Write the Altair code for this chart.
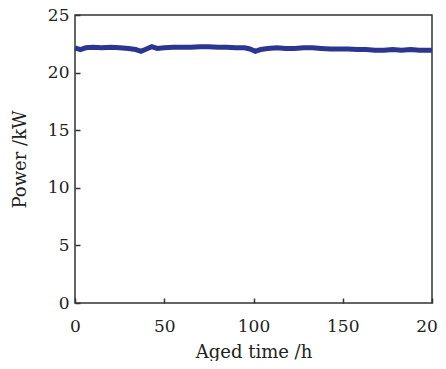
import altair as alt
import pandas as pd

hours = [0, 3, 6, 10, 15, 20, 25, 30, 34, 37, 40, 43, 46, 50, 55, 60, 65, 70, 75, 80,
         85, 90, 95, 98, 101, 104, 108, 113, 118, 123, 128, 133, 138, 143, 148, 153,
         158, 163, 168, 173, 178, 183, 188, 193, 198, 200]
power = [22.15, 22.0, 22.15, 22.2, 22.15, 22.2, 22.15, 22.1, 22.0, 21.85, 22.05, 22.25,
         22.1, 22.15, 22.2, 22.2, 22.2, 22.25, 22.25, 22.2, 22.2, 22.15, 22.15, 22.05,
         21.85, 22.0, 22.1, 22.15, 22.1, 22.1, 22.15, 22.15, 22.1, 22.05, 22.05, 22.05,
         22.0, 22.0, 21.95, 21.95, 22.0, 21.95, 22.0, 21.95, 21.95, 21.95]

df = pd.DataFrame({"h": hours, "p": power})

font = "DejaVu Serif"

chart = alt.Chart(df).mark_line(color="#2B3691", strokeWidth=5).encode(
    x=alt.X("h:Q", scale=alt.Scale(domain=[0, 200], nice=False),
            axis=alt.Axis(title="Aged time /h", values=[0, 50, 100, 150, 200],
                          domain=False, ticks=True, tickSize=alt.ExprRef(expr="-5"),
                          tickWidth=1.5, labelPadding=20, grid=False, titlePadding=9,
                          tickColor="#333", labelFlush=False)),
    y=alt.Y("p:Q", scale=alt.Scale(domain=[0, 25], nice=False),
            axis=alt.Axis(title="Power /kW", values=[0, 5, 10, 15, 20, 25],
                          domain=False, ticks=True, tickSize=alt.ExprRef(expr="-5"),
                          tickWidth=1.5, labelPadding=11, grid=False, titlePadding=18,
                          tickColor="#333")),
).properties(
    width=357, height=288,
    autosize=alt.AutoSizeParams(type="none"),
    padding={"left": 67, "top": 7, "right": 6, "bottom": 58},
).configure_view(
    stroke="#333", strokeWidth=1.5
).configure_axis(
    labelFont=font, titleFont=font, labelFontSize=17, titleFontSize=18,
    titleFontWeight="normal", labelColor="#222", titleColor="#222"
)

chart.save("out.html", embed_options={"renderer": "svg", "actions": False})
